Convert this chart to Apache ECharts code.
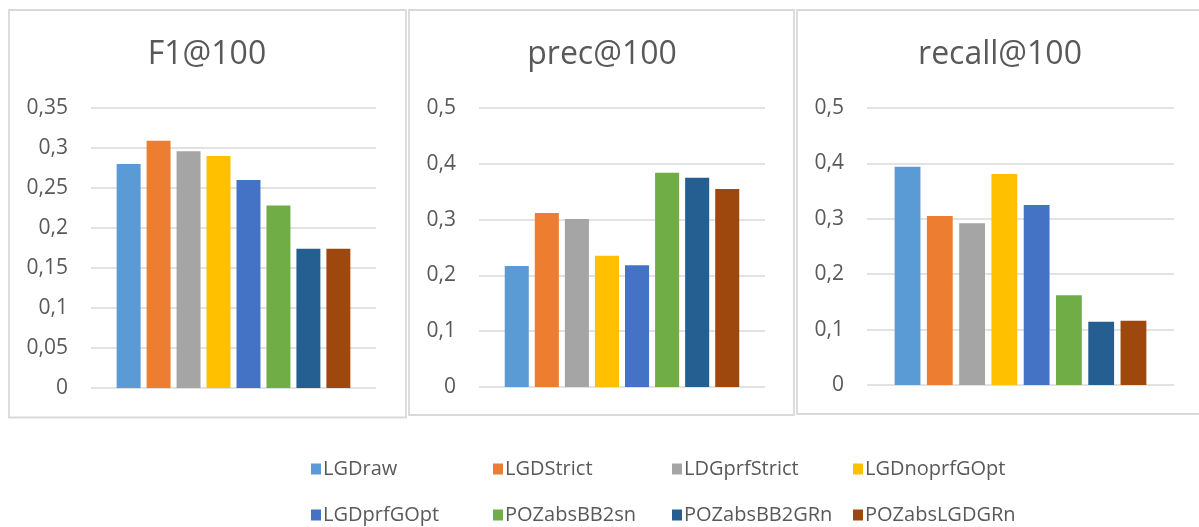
<!DOCTYPE html>
<html>
<head>
<meta charset="utf-8">
<title>F1 / precision / recall @100</title>
<script src="https://cdn.jsdelivr.net/npm/echarts@6/dist/echarts.min.js"></script>
<style>
  html, body { margin: 0; padding: 0; background: #ffffff; }
  #chart { width: 1199px; height: 527px; }
</style>
</head>
<body>
<div id="chart"></div>
<script>
// Methods compared (one bar each per panel)
const methods = ['LGDraw', 'LGDStrict', 'LDGprfStrict', 'LGDnoprfGOpt',
                 'LGDprfGOpt', 'POZabsBB2sn', 'POZabsBB2GRn', 'POZabsLGDGRn'];
const methodColors = ['#5B9BD5', '#ED7D31', '#A5A5A5', '#FFC000',
                      '#4472C4', '#70AD47', '#255E91', '#9E480E'];

// Scores per metric, in the order of `methods`
const f1At100     = [0.280, 0.309, 0.296, 0.290, 0.260, 0.228, 0.174, 0.174];
const precAt100   = [0.217, 0.312, 0.301, 0.235, 0.218, 0.384, 0.375, 0.355];
const recallAt100 = [0.394, 0.305, 0.292, 0.381, 0.325, 0.162, 0.114, 0.116];

const panelTitles = ['F1@100', 'prec@100', 'recall@100'];
const panelValues = [f1At100, precAt100, recallAt100];
const axisMax     = [0.35, 0.5, 0.5];
const axisStep    = [0.05, 0.1, 0.1];

// Layout of the three framed panels
const frames = [
  { x: 9,   y: 10, w: 397, h: 407.5 },
  { x: 409, y: 10, w: 385, h: 405 },
  { x: 797, y: 10, w: 406, h: 404 }
];
const grids = [
  { left: 91,  top: 108, width: 285, height: 280 },
  { left: 479, top: 108, width: 286, height: 279 },
  { left: 867, top: 108, width: 307, height: 277 }
];
const titleCenters = [207, 602, 1000];

const textColor = '#595959';
const lineColor = '#D9D9D9';
const fontFamily = '"Open Sans", "Noto Sans", sans-serif';

const commaDecimal = v => String(Number(v.toFixed(2))).replace('.', ',');

const option = {
  backgroundColor: '#ffffff',
  animation: false,
  textStyle: { fontFamily: fontFamily },
  title: panelTitles.map((t, i) => ({
    text: t,
    left: titleCenters[i],
    top: 39,
    textAlign: 'center',
    padding: 0,
    textStyle: { color: textColor, fontSize: 32, fontWeight: 'normal', fontFamily: fontFamily }
  })),
  grid: grids.map(g => Object.assign({ containLabel: false }, g)),
  xAxis: grids.map((g, i) => ({
    type: 'category',
    gridIndex: i,
    data: [''],
    axisLine: { show: false },
    axisTick: { show: false },
    axisLabel: { show: false },
    splitLine: { show: false }
  })),
  yAxis: grids.map((g, i) => ({
    type: 'value',
    gridIndex: i,
    min: 0,
    max: axisMax[i],
    interval: axisStep[i],
    axisLine: { show: false },
    axisTick: { show: false },
    axisLabel: {
      color: textColor,
      fontSize: 21,
      margin: 23,
      fontFamily: fontFamily,
      formatter: commaDecimal
    },
    splitLine: { show: true, lineStyle: { color: lineColor, width: 1.5 } }
  })),
  legend: methods.map((m, i) => ({
    data: [m],
    left: [311, 493, 672, 853][i % 4],
    top: i < 4 ? 459 : 505,
    padding: 0,
    icon: 'rect',
    itemWidth: 10,
    itemHeight: 11,
    selectedMode: false,
    textStyle: { color: textColor, fontSize: 20, fontFamily: fontFamily, padding: [0, 0, 0, -3] }
  })),
  series: [],
  graphic: frames.map(f => ({
    type: 'rect',
    silent: true,
    z: -10,
    shape: { x: f.x, y: f.y, width: f.w, height: f.h },
    style: { fill: 'none', stroke: lineColor, lineWidth: 1.8 }
  }))
};

panelValues.forEach((vals, p) => {
  methods.forEach((m, k) => {
    option.series.push({
      name: m,
      type: 'bar',
      xAxisIndex: p,
      yAxisIndex: p,
      data: [vals[k]],
      barCategoryGap: '18%',
      barGap: '25%',
      itemStyle: { color: methodColors[k] }
    });
  });
});

const chart = echarts.init(document.getElementById('chart'), null, { renderer: 'canvas' });
chart.setOption(option);
</script>
</body>
</html>
